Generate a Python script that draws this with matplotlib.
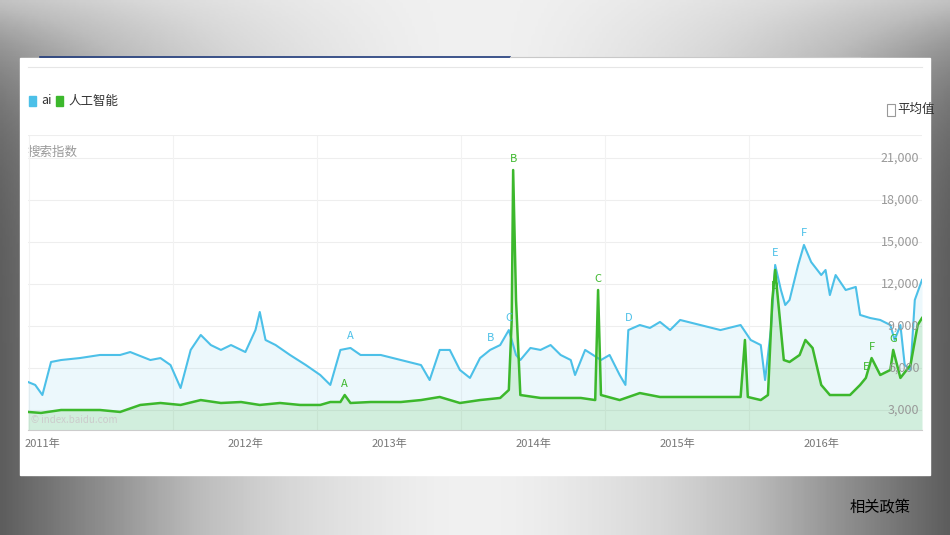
import numpy as np
import matplotlib.pyplot as plt
from matplotlib.patches import Rectangle

plt.rcParams['font.family'] = ['Noto Sans CJK SC', 'DejaVu Sans']

# ai series (decimal year, index)
ai_t = [2010.49, 2010.54, 2010.59, 2010.65, 2010.72, 2010.85, 2010.99, 2011.13, 2011.20, 2011.34,
        2011.41, 2011.48, 2011.55, 2011.62, 2011.69, 2011.76, 2011.83, 2011.90, 2012.00, 2012.07,
        2012.10, 2012.14, 2012.21, 2012.31, 2012.42, 2012.52, 2012.59, 2012.66, 2012.73, 2012.80,
        2012.94, 2013.08, 2013.22, 2013.28, 2013.35, 2013.42, 2013.49, 2013.56, 2013.63, 2013.70,
        2013.77, 2013.83, 2013.88, 2013.91, 2013.98, 2014.05, 2014.12, 2014.19, 2014.26, 2014.29,
        2014.36, 2014.47, 2014.53, 2014.60, 2014.64, 2014.66, 2014.74, 2014.81, 2014.88, 2014.95,
        2015.02, 2015.16, 2015.30, 2015.44, 2015.51, 2015.58, 2015.61, 2015.65, 2015.68, 2015.72,
        2015.75, 2015.78, 2015.84, 2015.88, 2015.93, 2016.00, 2016.03, 2016.06, 2016.10, 2016.17,
        2016.24, 2016.27, 2016.34, 2016.41, 2016.48, 2016.51, 2016.55, 2016.58, 2016.62, 2016.65,
        2016.70]
ai_v = [5000, 4790, 4070, 6430, 6570, 6710, 6930, 6930, 7140, 6570,
        6710, 6210, 4570, 7290, 8360, 7640, 7290, 7640, 7140, 8710,
        10000, 8000, 7640, 6930, 6210, 5500, 4790, 7290, 7430, 6930,
        6930, 6570, 6210, 5140, 7290, 7290, 5860, 5290, 6710, 7290,
        7640, 8710, 6930, 6570, 7430, 7290, 7640, 6930, 6570, 5500,
        7290, 6570, 6930, 5500, 4790, 8710, 9070, 8860, 9290, 8710,
        9430, 9070, 8710, 9070, 8000, 7640, 5140, 8710, 13360, 11570,
        10500, 10860, 13360, 14790, 13570, 12640, 13000, 11210, 12640, 11570,
        11790, 9790, 9570, 9430, 9070, 8000, 9070, 6210, 5860, 10860,
        12290]

# 人工智能 series
zh_t = [2010.49, 2010.58, 2010.72, 2010.99, 2011.13, 2011.27, 2011.41, 2011.55, 2011.69, 2011.83,
        2011.97, 2012.10, 2012.24, 2012.38, 2012.52, 2012.59, 2012.66, 2012.69, 2012.73, 2012.87,
        2013.08, 2013.22, 2013.35, 2013.49, 2013.63, 2013.77, 2013.83, 2013.85, 2013.86, 2013.88,
        2013.91, 2014.05, 2014.33, 2014.43, 2014.45, 2014.47, 2014.60, 2014.74, 2014.88, 2015.16,
        2015.44, 2015.47, 2015.49, 2015.58, 2015.63, 2015.66, 2015.68, 2015.70, 2015.74, 2015.78,
        2015.85, 2015.89, 2015.94, 2016.00, 2016.06, 2016.20, 2016.27, 2016.31, 2016.35, 2016.41,
        2016.48, 2016.50, 2016.55, 2016.62, 2016.67, 2016.70]
zh_v = [2860, 2790, 3000, 3000, 2860, 3360, 3500, 3360, 3710, 3500,
        3570, 3360, 3500, 3360, 3360, 3570, 3570, 4070, 3500, 3570,
        3570, 3710, 3930, 3500, 3710, 3860, 4430, 9430, 20140, 10860,
        4070, 3860, 3860, 3710, 11570, 4070, 3710, 4210, 3930, 3930,
        3930, 8000, 3930, 3710, 4070, 10860, 13000, 10860, 6570, 6430,
        6930, 8000, 7430, 4790, 4070, 4070, 4790, 5290, 6710, 5500,
        5860, 7290, 5290, 6210, 9070, 9570]

ai_marks = ['A', 'B', 'C', 'D', 'E', 'F']
ai_mark_t = [2012.73, 2013.70, 2013.83, 2014.66, 2015.68, 2015.88]
zh_marks = ['A', 'B', 'C', 'D', 'E', 'F', 'G']
zh_mark_t = [2012.69, 2013.86, 2014.45, 2015.68, 2016.31, 2016.35, 2016.50]

y_ticks = [3000, 6000, 9000, 12000, 15000, 18000, 21000]
x_ticks = [2010.59, 2012, 2013, 2014, 2015, 2016]
x_labels = ['2011年', '2012年', '2013年', '2014年', '2015年', '2016年']

BLUE = '#4cc0e8'
GREEN = '#3cb82c'

fig = plt.figure(figsize=(9.5, 5.35), dpi=100)

# slide background: grey gradient, lighter at the top
bg = fig.add_axes([0, 0, 1, 1])
bg.set_axis_off()
xx = np.linspace(-1, 1, 300)
yy = np.linspace(0, 1, 200)
grad = np.abs(xx)[None, :] ** 1.5 * (1 - 0.6 * yy[:, None] ** 6)
bg.imshow(grad, aspect='auto', cmap='Greys', vmin=-0.2, vmax=1.5,
          extent=[0, 1, 0, 1], origin='lower')
bg.set_xlim(0, 1)
bg.set_ylim(0, 1)
bg.add_patch(Rectangle((20 / 950, 1 - 475 / 535), 910 / 950, 417 / 535, color='white', zorder=3))
bg.plot([40 / 950, 510 / 950], [1 - 57 / 535] * 2, color='#1f3a7a', lw=1.2, zorder=4)
bg.plot([510 / 950, 860 / 950], [1 - 57 / 535] * 2, color='#c8c8c8', lw=0.8, zorder=4)
bg.plot([28 / 950, 922 / 950], [1 - 67 / 535] * 2, color='#e6e6e6', lw=0.8, zorder=4)
bg.text(880 / 950, 1 - 507 / 535, '相关政策', fontsize=11, ha='center', va='center', zorder=4)

# legend
bg.add_patch(Rectangle((29 / 950, 1 - 106 / 535), 7 / 950, 10 / 535, color=BLUE, zorder=4))
bg.text(41 / 950, 1 - 101 / 535, 'ai', fontsize=9, va='center', color='#333333', zorder=4)
bg.add_patch(Rectangle((56 / 950, 1 - 106 / 535), 7 / 950, 10 / 535, color=GREEN, zorder=4))
bg.text(68 / 950, 1 - 101 / 535, '人工智能', fontsize=9, va='center', color='#333333', zorder=4)
bg.add_patch(Rectangle((887 / 950, 1 - 116 / 535), 8 / 950, 12 / 535, fill=False,
                       ec='#999999', lw=0.8, zorder=4))
bg.text(897 / 950, 1 - 109 / 535, '平均值', fontsize=9, va='center', color='#333333', zorder=4)
bg.text(28 / 950, 1 - 152 / 535, '搜索指数', fontsize=9, va='center', color='#999999', zorder=4)

ax = fig.add_axes([28 / 950, 105 / 535, 894 / 950, 295 / 535])
ax.set_zorder(5)
ax.patch.set_alpha(0)
ax.set_xlim(2010.49, 2016.70)
ax.set_ylim(1571, 22643)

ax.fill_between(ai_t, ai_v, 1571, color=BLUE, alpha=0.1, lw=0)
ax.fill_between(zh_t, zh_v, 1571, color=GREEN, alpha=0.15, lw=0)
ax.plot(ai_t, ai_v, color=BLUE, lw=1.5)
ax.plot(zh_t, zh_v, color=GREEN, lw=1.8)

for m, t in zip(ai_marks, ai_mark_t):
    v = np.interp(t, ai_t, ai_v)
    ax.text(t, v + 500, m, color=BLUE, fontsize=8, ha='center', va='bottom')
for m, t in zip(zh_marks, zh_mark_t):
    v = np.interp(t, zh_t, zh_v)
    dy = -1500 if m == 'D' else 400
    ax.text(t, v + dy, m, color=GREEN, fontsize=8, ha='center', va='bottom')

for y in y_ticks:
    ax.axhline(y, color='#eeeeee', lw=0.8, zorder=0)
    ax.text(0.997, y, f'{y:,}', transform=ax.get_yaxis_transform(), ha='right',
            va='center', fontsize=9, color='#999999')
for x in [2011.0, 2012.0, 2013.0, 2014.0, 2015.0, 2016.0]:
    ax.axvline(x - 0.5, color='#f2f2f2', lw=0.8, zorder=0)
ax.axhline(22643, color='#eeeeee', lw=0.8)

ax.set_yticks([])
ax.set_xticks(x_ticks)
ax.set_xticklabels(x_labels, fontsize=8, color='#777777')
ax.tick_params(axis='x', length=0, pad=6)
for s in ['top', 'right', 'left']:
    ax.spines[s].set_visible(False)
ax.spines['bottom'].set_color('#cccccc')
ax.text(0.003, 2100, '© index.baidu.com', transform=ax.get_yaxis_transform(),
        fontsize=7, color='#cccccc')

fig.savefig('out.png', dpi=100)
